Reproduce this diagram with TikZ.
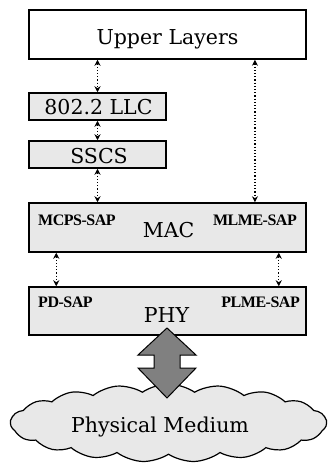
\documentclass[tikz,border=0pt]{standalone}
\usepackage{fontspec}
\setmainfont{DejaVu Serif}
\newfontfamily\sapfont[LetterSpace=-3]{Liberation Serif}
\usetikzlibrary{shapes.symbols,arrows.meta,calc}
\begin{document}
\begin{tikzpicture}[x=1pt,y=-1pt,
  box/.style={draw,line width=1.5pt,fill=gray!18,inner sep=0pt,rectangle},
  lbl/.style={font=\fontsize{20.5}{22}\selectfont,anchor=base,inner sep=0pt},
  sap/.style={font=\sapfont\bfseries\fontsize{16}{18}\selectfont,inner sep=0pt},
  conn/.style={dotted,line width=1.2pt,{Stealth[length=6pt,width=6pt]}-{Stealth[length=6pt,width=6pt]}}]
\useasboundingbox (0,0) rectangle (333,465);
% boxes
\node[box,fill=white,minimum width=277pt,minimum height=49pt] (upper) at (167.5,34.5) {};
\node[box,minimum width=137pt,minimum height=27pt] (llc) at (97.5,106.5) {};
\node[box,minimum width=137pt,minimum height=27pt] (sscs) at (97.5,154.5) {};
\node[box,minimum width=277pt,minimum height=49pt] (mac) at (167.5,227.5) {};
\node[box,minimum width=277pt,minimum height=48pt] (phy) at (167.5,311) {};
% cloud
\node[cloud,cloud puffs=19,cloud puff arc=70,cloud ignores aspect,draw,line width=1.2pt,fill=gray!18,
      minimum width=316pt,minimum height=78pt,inner sep=0pt] (medium) at (168.5,423) {};
% texts
\node[lbl] (upperT) at (167.5,45) {Upper Layers};
\node[lbl] (llcT) at (98.5,115) {802.2 LLC};
\node[lbl] (sscsT) at (99,164) {SSCS};
\node[lbl] (macT) at (168.5,237) {MAC};
\node[lbl] (phyT) at (166.5,322) {PHY};
\node[lbl] (medT) at (160,432) {Physical Medium};
\node[sap,anchor=base west] (mcps) at (38,225) {MCPS-SAP};
\node[sap,anchor=base east] (mlme) at (297,225) {MLME-SAP};
\node[sap,anchor=base west] (pd) at (38,307) {PD-SAP};
\node[sap,anchor=base east] (plme) at (300,307) {PLME-SAP};
% connectors
\draw[conn] (llc.north |- upper.south) -- (llc.north);
\draw[conn] (llc.south) -- (sscs.north);
\draw[conn] (sscs.south) -- (sscs.south |- mac.north);
\draw[conn] (mlme.north |- upper.south) -- (mlme.north |- mac.north);
\draw[conn] ($(mac.south west)+(28,0)$) -- ($(phy.north west)+(28,0)$);
\draw[conn] ($(mac.south east)+(-28,0)$) -- ($(phy.north east)+(-28,0)$);
% big double arrow
\coordinate (tip) at (167,328);
\draw[fill=gray,line width=1pt,shift={(tip)}]
  (0,0) -- (29,27) -- (13,27) -- (13,40) -- (29,40) -- (0,70) -- (-29,40) -- (-13,40) -- (-13,27) -- (-29,27) -- cycle;
\end{tikzpicture}
\end{document}
